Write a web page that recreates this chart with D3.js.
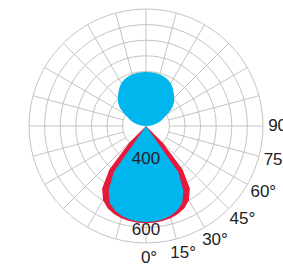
<!DOCTYPE html>
<html><head><meta charset="utf-8">
<script src="https://cdn.jsdelivr.net/npm/d3@7/dist/d3.min.js"></script>
<style>html,body{margin:0;padding:0;background:#fff;overflow:hidden}</style>
</head><body>
<svg id="chart" width="283" height="269"></svg>
<script>
// Angles (deg from downward direction), one side; mirrored for the other side
const angles = [0,5,10,15,20,25,30,35,40,45,50,55,60,65,70,75,80,85,90,95,100,105,110,115,120,125,130,135,140,145,150,155,160,165,170,175,180];
// Red series (cd)
const redValues = [624,622,618,612,600,582,550,490,365,150,0,0,0,0,0,0,0,0,0,0,0,0,0,0,0,0,0,0,0,0,0,0,0,0,0,0,0];
// Blue series (cd)
const blueValues = [616,614,609,598,578,548,480,360,0,0,0,0,0,0,0,0,0,0,0,25,55,80,105,128,165,205,234,256,276,298,317,329,337,342,345,346,346];
const ringValues = [150,250,350,450,550,650,750];
const spokeAngles = [0,15,30,45,60,75,90,105,120,135,150,165,180,195,210,225,240,255,270,285,300,315,330,345];
const angleLabels = ["0°","15°","30°","45°","60°","75°","90°"];
const angleLabelValues = [0,15,30,45,60,75,90];
const valueLabels = ["400","600"];

const cx = 146, cy = 126, R = 117;
const svg = d3.select("#chart");
const g = svg.append("g").attr("transform", `translate(${cx},${cy})`);
const r = d3.scaleLinear().domain([0, 750]).range([0, R]);
const rad = d => d * Math.PI / 180;

// grid
g.selectAll("circle.ring").data(ringValues).join("circle")
  .attr("r", d => r(d)).attr("fill", "none").attr("stroke", "#c4c4c4").attr("stroke-width", 1);
g.selectAll("line.spoke").data(spokeAngles).join("line")
  .attr("x1", d => r(150) * Math.sin(rad(d))).attr("y1", d => r(150) * Math.cos(rad(d)))
  .attr("x2", d => r(750) * Math.sin(rad(d))).attr("y2", d => r(750) * Math.cos(rad(d)))
  .attr("stroke", "#c4c4c4").attr("stroke-width", 1);

function fullCurve(vals) {
  const pts = [];
  for (let i = angles.length - 1; i > 0; i--) pts.push({a: -angles[i], v: vals[i]});
  for (let i = 0; i < angles.length - 1; i++) pts.push({a: angles[i], v: vals[i]});
  return pts;
}
const line = d3.lineRadial()
  .angle(d => Math.PI - rad(d.a))
  .radius(d => r(d.v))
  .curve(d3.curveLinearClosed);

g.append("path").attr("d", line(fullCurve(redValues))).attr("fill", "#e6193a");
g.append("path").attr("d", line(fullCurve(blueValues))).attr("fill", "#00b6ec");

// value labels
const labelFont = "'Liberation Sans', Arial, sans-serif";
const valueLabelR = [37.5, 109];
g.selectAll("text.val").data(valueLabels).join("text")
  .attr("x", 0).attr("y", (d, i) => valueLabelR[i])
  .attr("text-anchor", "middle")
  .attr("font-family", labelFont).attr("font-size", 17).attr("fill", "#222")
  .text(d => d);

// angle labels
const LR = 132;
g.selectAll("text.ang").data(angleLabels).join("text")
  .attr("x", (d, i) => LR * Math.sin(rad(angleLabelValues[i])) + 3)
  .attr("y", (d, i) => LR * Math.cos(rad(angleLabelValues[i])) - 1)
  .attr("text-anchor", "middle").attr("dominant-baseline", "central")
  .attr("font-family", labelFont).attr("font-size", 17).attr("fill", "#222")
  .text(d => d);
</script>
</body></html>
